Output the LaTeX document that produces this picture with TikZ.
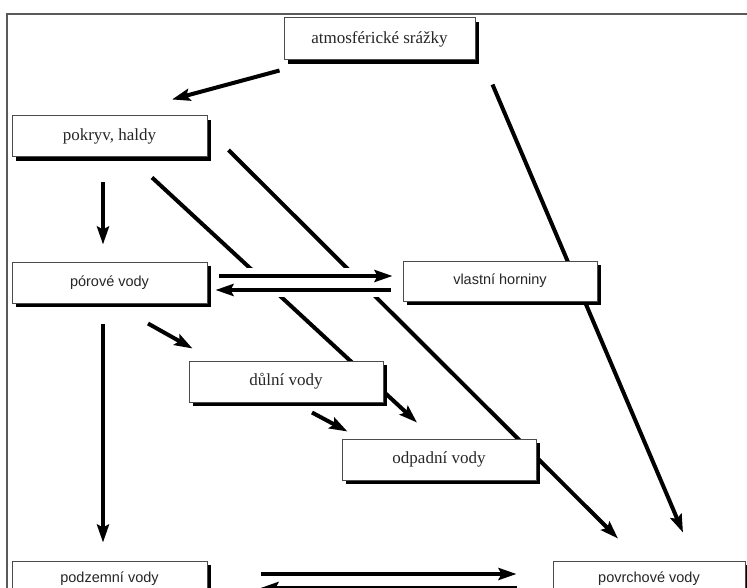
\documentclass[tikz,border=0pt]{standalone}
\usepackage{fontspec}
\setmainfont{Liberation Serif}
\newfontfamily\arialf{Liberation Sans}
\usetikzlibrary{arrows.meta,shadows,calc,backgrounds}
\begin{document}
\begin{tikzpicture}[x=1pt,y=-1pt,
  box/.style={draw=black!70, line width=1pt, fill=white, minimum width=194pt, minimum height=41pt, inner sep=0pt,
    text=black!85, font=\fontsize{17}{19}\selectfont,
    drop shadow={shadow xshift=4pt, shadow yshift=-4pt, fill=black, opacity=1}},
  sbox/.style={box, font=\arialf\fontsize{14.5}{16}\selectfont},
  ar/.style={line width=4pt, -{Stealth[length=18pt,width=12pt,inset=3pt]}},
  ln/.style={line width=4pt},
  frame/.style={draw=black!65, line width=1.2pt}]
\useasboundingbox (0,0) rectangle (747,588);
\clip (0,0) rectangle (747,588);
\draw[frame] (7,588) -- (7,14) -- (747,14);

\node[box, minimum width=191pt, minimum height=42pt] (atm) at (379.5,39) {atmosférické srážky};
\node[box, minimum width=195pt] (pok) at (109.5,136.5) {pokryv, haldy};
\node[sbox, minimum width=195pt] (por) at (109.5,282.5) {pórové vody};
\node[sbox, minimum height=40pt] (vla) at (500,281) {vlastní horniny};
\node[box] (dul) at (286,381.5) {důlní vody};
\node[box] (odp) at (439,459.5) {odpadní vody};
\node[sbox, minimum width=195pt, minimum height=36pt] (pod) at (109.5,579) {podzemní vody};
\node[sbox, minimum width=192pt, minimum height=36pt] (pov) at (649,579) {povrchové vody};

\begin{pgfonlayer}{background}
  \draw[ar] ($(atm.south east)+(17,24)$) -- ($(pov.north)+(34,-28)$);
  \draw[ar] ($(pok.east)+(21,13.5)$) -- ($(pov.north)+(-31,-22)$);
  \draw[ar] ($(pok.south)+(42.5,20)$) -- ($(odp.north)+(-22,-16)$);
  \fill[white] ($(por.east)+(5,-14.5)$) rectangle ($(vla.west)+(-5,15.5)$);
  \draw[ar] ($(por.east)+(11,-6.5)$) -- ($(vla.west)+(-10,-5)$);
  \draw[ar] ($(vla.west)+(-12,9)$) -- ($(por.east)+(8,7.5)$);
\end{pgfonlayer}

\draw[ar] ($(atm.south west)+(-4,10)$) -- ($(pok.north)+(62.5,-16)$);
\draw[ar] ($(pok.south)+(-6.5,25)$) -- ($(por.north)+(-6.5,-17)$);
\draw[ar] ($(por.south)+(38.5,20)$) -- ($(dul.north west)+(4,-12)$);
\draw[ar] ($(dul.south)+(26,10)$) -- ($(odp.north west)+(6,-7)$);
\draw[ar] ($(por.south)+(-6.5,20)$) -- ($(pod.north)+(-6.5,-18)$);
\draw[ar] ($(pod.east)+(53,-5)$) -- ($(pov.west)+(-36,-5)$);
\draw[ar] ($(pov.west)+(-36,9)$) -- ($(pod.east)+(53,9)$);
\end{tikzpicture}
\end{document}
